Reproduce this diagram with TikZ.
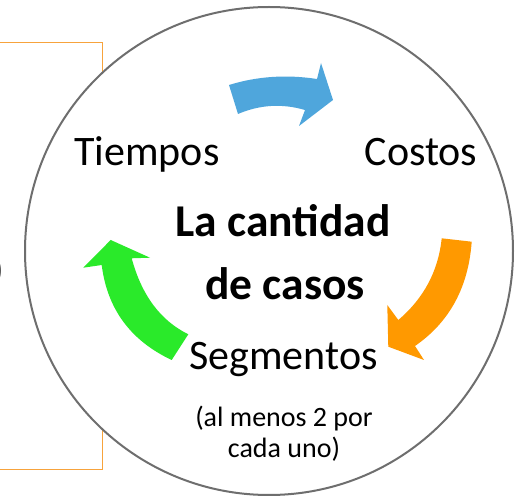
\documentclass[tikz,border=0pt]{standalone}
\usepackage{fontspec}
\setmainfont{Carlito}
\definecolor{arrblue}{RGB}{79,166,220}
\definecolor{arrorange}{RGB}{255,153,0}
\definecolor{arrgreen}{RGB}{42,234,42}
\definecolor{boxorange}{RGB}{247,163,60}
\definecolor{ringgray}{RGB}{110,110,110}
\begin{document}
\begin{tikzpicture}[x=1pt,y=-1pt,
  biglabel/.style={inner sep=0pt, anchor=base, font=\fontsize{42}{50}\selectfont},
  titlelabel/.style={inner sep=0pt, anchor=base, font=\fontsize{45.5}{54}\selectfont\bfseries},
  smalllabel/.style={inner sep=0pt, anchor=base, font=\fontsize{28}{34}\selectfont}]
\useasboundingbox (0,0) rectangle (515,497);
\clip (0,0) rectangle (515,497);
% partially visible box on the left
\draw[boxorange, line width=1pt] (-20,43) rectangle (102,470);
\node[inner sep=0pt, anchor=base east, font=\fontsize{42}{50}\selectfont] (paren) at (4,284) {)};
% ring
\node[circle, draw=ringgray, fill=white, line width=2pt, minimum size=488pt, inner sep=0pt] (ring) at (269,251) {};
% arrows
\fill[arrblue] (229,85) .. controls (257,76.3) and (286.3,74.3) .. (317,79) -- (321,63) -- (333,100) -- (299,126) -- (305,110) .. controls (282,103.3) and (259.7,104.7) .. (238,114) -- cycle;
\fill[arrorange] (441.7,238.3) -- (471.7,241.7) .. controls (468.4,287.4) and (449.5,322.1) .. (415,346) -- (424,360) -- (388.3,346.7) -- (387.3,305) -- (398.3,320) .. controls (423.8,298.3) and (438.3,271.1) .. (441.7,238.3) -- cycle;
\fill[arrgreen] (188.3,334.3) -- (171.7,360) .. controls (130.5,340.6) and (107.2,308.9) .. (101.7,265) -- (83.3,267.7) -- (110.7,240) -- (150,257.7) -- (131.7,258.3) .. controls (141.6,295.2) and (160.5,320.6) .. (188.3,334.3) -- cycle;
% labels
\node[biglabel] (tiempos) at (147,166) {Tiempos};
\node[biglabel] (costos) at (421,166) {Costos};
\node[titlelabel] (title1) at (283,237) {La cantidad};
\node[titlelabel] (title2) at (285,300) {de casos};
\node[biglabel] (segmentos) at (283.5,370) {Segmentos};
\node[smalllabel] (note1) at (284,427) {(al menos 2 por};
\node[smalllabel] (note2) at (284,458) {cada uno)};
\end{tikzpicture}
\end{document}
